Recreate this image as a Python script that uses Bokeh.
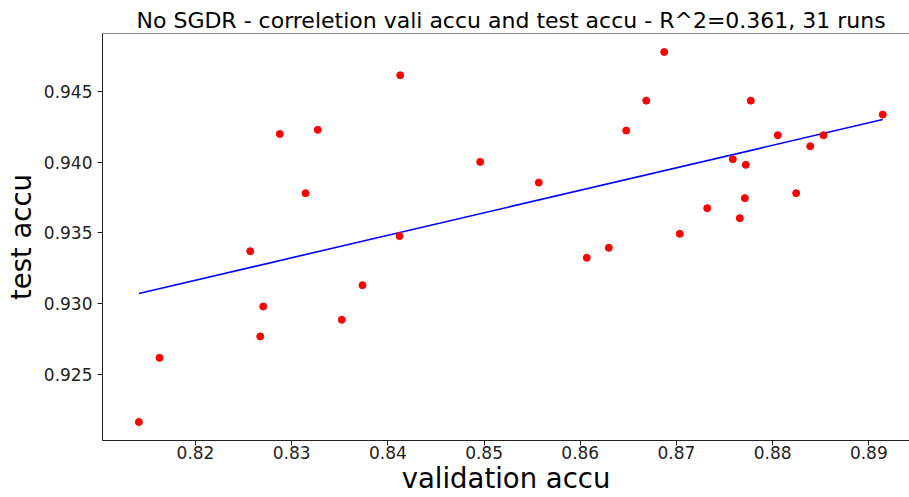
from bokeh.plotting import figure
from bokeh.models import Range1d, FixedTicker, PrintfTickFormatter, Span, ColumnDataSource
from bokeh.embed import file_html
from bokeh.resources import INLINE

# ---- data ----
val_accu = [0.84128, 0.82876, 0.83271, 0.84960, 0.83144, 0.84121, 0.82569,
            0.86873, 0.86686, 0.87773, 0.89145, 0.86478, 0.88054, 0.88529,
            0.88391, 0.87586, 0.87721, 0.85569, 0.88245, 0.87711, 0.87320,
            0.87659, 0.87035, 0.86297, 0.86068, 0.83736, 0.82704, 0.83521,
            0.82673, 0.81626, 0.81411]
test_accu = [0.94618, 0.94202, 0.94231, 0.94004, 0.93782, 0.93478, 0.93371,
             0.94783, 0.94438, 0.94438, 0.94339, 0.94226, 0.94193, 0.94193,
             0.94115, 0.94023, 0.93983, 0.93857, 0.93782, 0.93747, 0.93676,
             0.93605, 0.93494, 0.93395, 0.93324, 0.93130, 0.92979, 0.92885,
             0.92767, 0.92615, 0.92160]
fit_x = [0.81411, 0.89145]
fit_y = [0.93071, 0.94304]
x_ticks = [0.82, 0.83, 0.84, 0.85, 0.86, 0.87, 0.88, 0.89]
y_ticks = [0.925, 0.930, 0.935, 0.940, 0.945]
title_text = "No SGDR - correletion vali accu and test accu - R^2=0.361, 31 runs"
x_label = "validation accu"
y_label = "test accu"

x_lo, x_hi = 0.81033, 0.89423
y_lo, y_hi = 0.92029, 0.94914

FONT = "DejaVu Sans"

p = figure(width=909, height=497, output_backend="svg", toolbar_location=None,
           x_range=Range1d(x_lo, x_hi), y_range=Range1d(y_lo, y_hi),
           min_border_left=102, min_border_right=0, min_border_top=33,
           min_border_bottom=57, background_fill_color="white",
           border_fill_color="white")

p.title.text = title_text
p.title.text_font = FONT
p.title.text_font_size = "22px"
p.title.text_font_style = "normal"
p.title.text_color = "black"
p.title.align = "left"
p.title.offset = 34
p.title.standoff = 2

p.outline_line_color = None
p.xgrid.visible = False
p.ygrid.visible = False

for ax in (p.xaxis[0], p.yaxis[0]):
    ax.axis_line_color = "#222222"
    ax.axis_line_width = 1
    ax.major_tick_line_color = "#222222"
    ax.major_tick_out = 5
    ax.major_tick_in = 0
    ax.minor_tick_out = 0
    ax.minor_tick_in = 0
    ax.major_label_text_font = FONT
    ax.major_label_text_font_size = "17px"
    ax.major_label_text_color = "#222222"
    ax.axis_label_text_font = FONT
    ax.axis_label_text_font_size = "27.5px"
    ax.axis_label_text_font_style = "normal"
    ax.axis_label_text_color = "black"

p.xaxis[0].ticker = FixedTicker(ticks=x_ticks)
p.xaxis[0].formatter = PrintfTickFormatter(format="%.2f")
p.xaxis[0].axis_label = x_label
p.xaxis[0].major_label_standoff = 0
p.xaxis[0].axis_label_standoff = 0

p.yaxis[0].ticker = FixedTicker(ticks=y_ticks)
p.yaxis[0].formatter = PrintfTickFormatter(format="%.3f")
p.yaxis[0].axis_label = y_label
p.yaxis[0].major_label_standoff = 5
p.yaxis[0].axis_label_standoff = 4

p.add_layout(Span(location=y_hi, dimension="width", line_color="#222222", line_width=1))

p.line(fit_x, fit_y, line_color="#0000ff", line_width=1.6)
src = ColumnDataSource(dict(x=val_accu, y=test_accu))
p.scatter("x", "y", source=src, size=7, fill_color="#ff0000", line_color="#ff0000")

open("out.html", "w").write(file_html(p, INLINE))
